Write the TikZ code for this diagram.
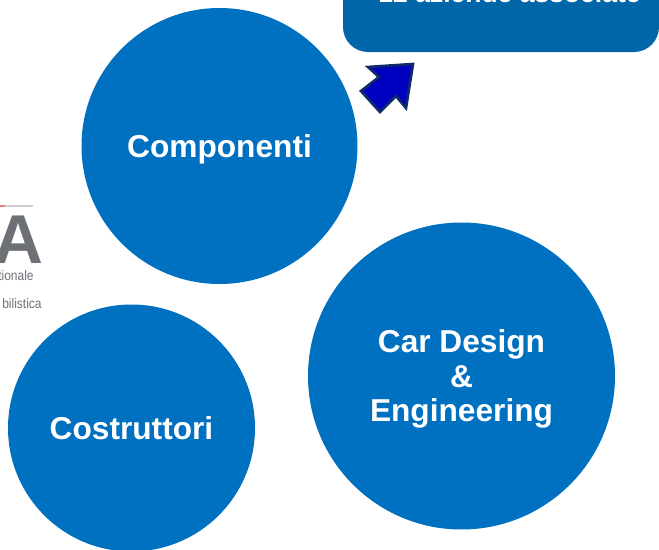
\documentclass[tikz,border=0pt]{standalone}
\usepackage{fontspec}
\setmainfont{Liberation Sans}
\definecolor{bubbleblue}{HTML}{0070C0}
\definecolor{boxblue}{HTML}{0066A8}
\definecolor{arrowblue}{HTML}{0000C0}
\definecolor{arrowline}{HTML}{0F2A6B}
\definecolor{logogray}{HTML}{6D7176}
\tikzset{
  bubble/.style={fill=bubbleblue},
  bubbletext/.style={text=white,font=\fontsize{19}{20.6}\selectfont\bfseries,align=center,inner sep=0pt},
  logotext/.style={text=logogray,font=\fontsize{7.2}{8}\selectfont,inner sep=0pt,anchor=east,yscale=1.15}
}
\begin{document}
\begin{tikzpicture}[x=0.6pt,y=0.6pt]
        \useasboundingbox (0,-550) rectangle (659,0);
        \clip (0,-550) rectangle (659,0);
        % box at the top
        \fill [boxblue] (343,20) -- (343,-27) arc (180:270:25) -- (634,-52) arc (270:360:25) -- (659,20) -- cycle;
        \node [text=white,font=\fontsize{15.9}{17}\selectfont\bfseries,inner sep=0pt,anchor=base east] (aziende) at (641,-3) {12 aziende associate};
        % arrow
        \draw [arrowline,fill=arrowblue,line width=1.6pt] (413,-64) -- (368,-67) -- (379,-77) -- (361,-91) -- (380,-112) -- (396,-96) -- (406,-108) -- cycle;
        % logo
        \draw [logogray!35,line width=0.7pt] (0,-206) -- (33,-206);
        \draw [red!60!logogray!60,line width=0.7pt] (0,-206) -- (5,-206);
        \node [text=logogray,font=\fontsize{41.5}{42}\selectfont\bfseries,inner sep=0pt,anchor=base east] (logoa) at (44,-263) {A};
        \node [logotext] (logoa1) at (34,-276) {tionale};
        \node [logotext] (logoa2) at (42,-304) {bilistica};
        % circles
        \fill [bubble] (219.5,-146) circle (138);
        \node [bubbletext] (componenti) at (219.5,-149) {Componenti};
        \fill [bubble] (461.5,-376) circle (153.5);
        \node [bubbletext] (cardesign) at (461.5,-379) {Car Design\\\&\\Engineering};
        \fill [bubble] (131.5,-428) circle (123.5);
        \node [bubbletext] (costruttori) at (131.5,-428) {Costruttori};
\end{tikzpicture}
\end{document}
